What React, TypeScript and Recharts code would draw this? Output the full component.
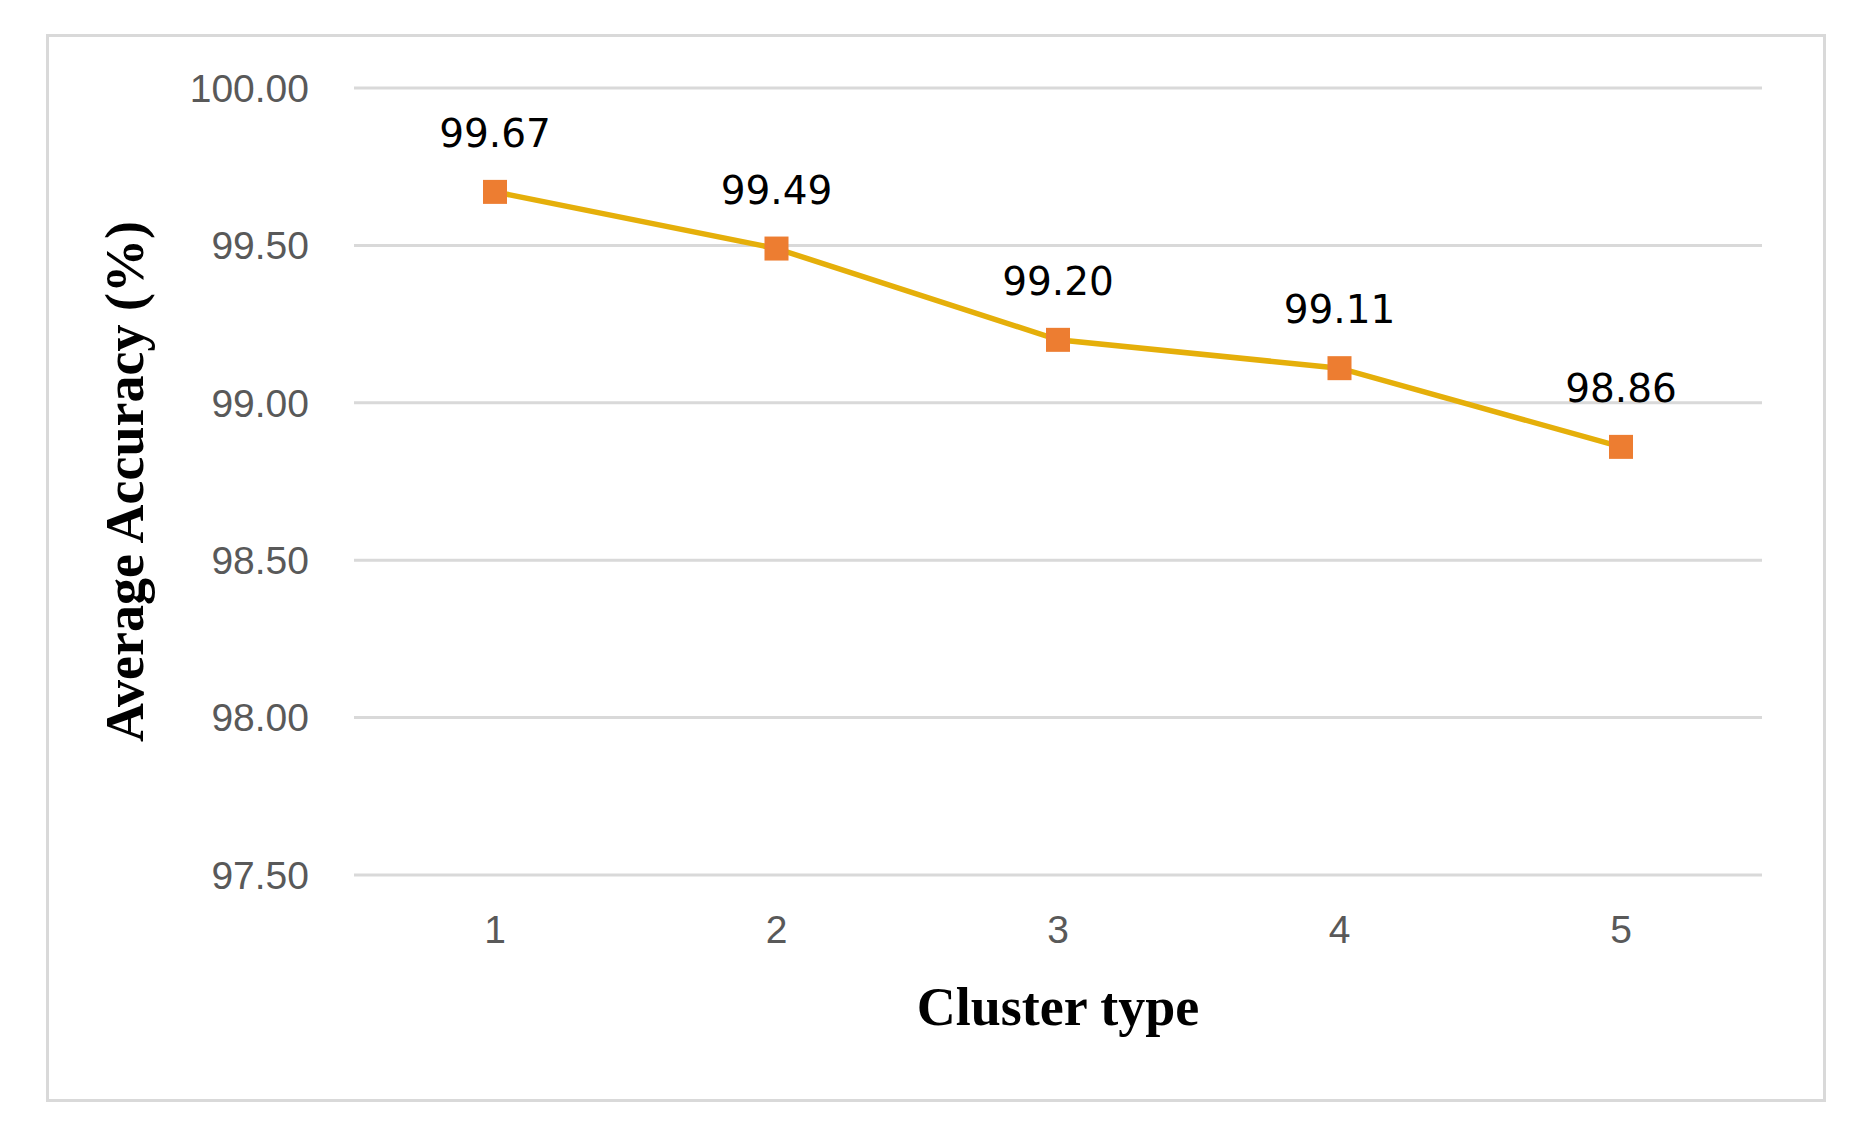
import { LineChart, Line, XAxis, YAxis, CartesianGrid, LabelList } from "recharts";

const clusterTypes = ["1", "2", "3", "4", "5"];
const avgAccuracy = [99.67, 99.49, 99.2, 99.11, 98.86];
const yTicks = [97.5, 98.0, 98.5, 99.0, 99.5, 100.0];

const data = clusterTypes.map((name, i) => ({ name, value: avgAccuracy[i] }));

const LINE_COLOR = "#E5AF0A";
const MARKER_COLOR = "#ED7D31";
const GRID_COLOR = "#D9D9D9";
const TICK_STYLE = { fill: "#595959", fontSize: 39, fontFamily: "Liberation Sans" };
const TITLE_STYLE = { fill: "#000", fontSize: 54, fontWeight: "bold", fontFamily: "Liberation Serif" };

const SquareDot = (props: any) => {
  const { cx, cy, index } = props;
  if (cx == null || cy == null) return null;
  return <rect key={`dot-${index}`} x={cx - 12} y={cy - 12} width={24} height={24} fill={MARKER_COLOR} />;
};

export default function App() {
  return (
    <div style={{ position: "relative", width: 1835, height: 1126, background: "#fff" }}>
      {/* chart frame */}
      <div
        style={{
          position: "absolute",
          left: 38,
          top: 26,
          width: 1780,
          height: 1068,
          border: `3px solid ${GRID_COLOR}`,
          boxSizing: "border-box",
        }}
      />
      <div style={{ position: "absolute", left: 0, top: 0 }}>
        <LineChart width={1835} height={1126} data={data} margin={{ top: 80, right: 81, bottom: 109, left: 0 }}>
          <CartesianGrid vertical={false} stroke={GRID_COLOR} strokeWidth={3} />
          <XAxis
            dataKey="name"
            height={150}
            padding={{ left: 141, right: 141 }}
            axisLine={false}
            tickLine={false}
            tickSize={0}
            tickMargin={40}
            tick={TICK_STYLE}
            label={{ value: "Cluster type", position: "insideBottom", offset: 0, style: TITLE_STYLE }}
          />
          <YAxis
            width={346}
            domain={[97.5, 100]}
            ticks={yTicks}
            interval={0}
            axisLine={false}
            tickLine={false}
            tickSize={0}
            tickMargin={45}
            tick={TICK_STYLE}
            tickFormatter={(v: number) => v.toFixed(2)}
            label={{
              value: "Average Accuracy (%)",
              angle: -90,
              position: "insideLeft",
              offset: 116,
              style: { ...TITLE_STYLE, textAnchor: "middle" },
            }}
          />
          <Line
            type="linear"
            dataKey="value"
            stroke={LINE_COLOR}
            strokeWidth={5.5}
            dot={<SquareDot />}
            activeDot={false}
            isAnimationActive={false}
          >
            <LabelList
              dataKey="value"
              position="top"
              offset={45}
              formatter={(v: any) => Number(v).toFixed(2)}
              style={{ fill: "#000", fontSize: 39, fontFamily: "DejaVu Sans" }}
            />
          </Line>
        </LineChart>
      </div>
    </div>
  );
}
